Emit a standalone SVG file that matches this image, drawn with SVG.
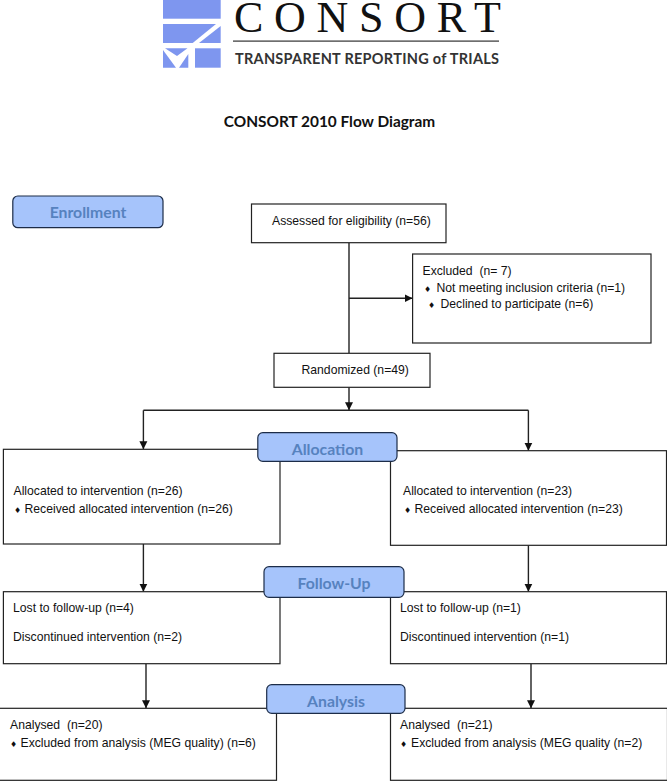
<svg xmlns="http://www.w3.org/2000/svg" width="667" height="781" viewBox="0 0 667 781">
<style>
.box{fill:#fff;stroke:#222;stroke-width:1.2}
.stage{fill:#a6c4fb;stroke:#1c2c48;stroke-width:1.2}
.st{font:bold 15.8px Lato,"Liberation Sans",sans-serif;fill:#5682bf;text-anchor:middle}
.t{font:12.2px "Liberation Sans",Arial,sans-serif;fill:#111;white-space:pre}
.b{font:8px "DejaVu Sans",sans-serif;fill:#111}
.c{fill:none;stroke:#222;stroke-width:1.4}
.logo{fill:#7e96ef}
</style>
<defs><marker id="a" markerUnits="userSpaceOnUse" markerWidth="9" markerHeight="9" refX="8" refY="4.500" orient="auto"><path d="M0 0.500L8 4.500L0 8.500z" fill="#111"/></marker></defs>
<rect width="667" height="781" fill="#fff"/>
<g id="logo">
<rect class="logo" x="163" y="0" width="57.700" height="18.700"/>
<path class="logo" d="M163 24H216L192.700 43H163z"/>
<path class="logo" d="M220.700 26V43H199z"/>
<rect class="logo" x="195" y="48.300" width="25.700" height="19.400"/>
<path class="logo" d="M165 48.300H187.500L177 56z"/>
<path class="logo" d="M163 50L176 67.700H163z"/>
<path class="logo" d="M188.300 54L179 67.700H188.300z"/>
<text x="234" y="32" font-family="Liberation Serif,serif" font-size="44" textLength="267" fill="#111">CONSORT</text>
<rect x="233" y="40.500" width="266" height="1.200" fill="#333"/>
<text x="235" y="63.500" font-family="Lato,sans-serif" font-weight="700" font-size="14.500" textLength="264" fill="#333">TRANSPARENT REPORTING of TRIALS</text>
</g>
<text id="title" x="329.500" y="127" font-family="Lato,sans-serif" font-weight="700" font-size="15.400" text-anchor="middle" fill="#111">CONSORT 2010 Flow Diagram</text>
<g id="connectors">
<path class="c" d="M349 243V353"/>
<path class="c" d="M349 298.300H412.500" marker-end="url(#a)"/>
<path class="c" d="M349 387.300V410.300" marker-end="url(#a)"/>
<path class="c" d="M143.400 410.300H528.400"/>
<path class="c" d="M143.400 410.300V449.300" marker-end="url(#a)"/>
<path class="c" d="M528.400 410.300V450.700" marker-end="url(#a)"/>
<path class="c" d="M143.400 544V591.700" marker-end="url(#a)"/>
<path class="c" d="M528.400 545.300V591.700" marker-end="url(#a)"/>
<path class="c" d="M146 663.700V708.300" marker-end="url(#a)"/>
<path class="c" d="M531 663.700V708.300" marker-end="url(#a)"/>
</g>
<g id="enrollment"><rect class="stage" x="12.800" y="196" width="150.200" height="31.700" rx="5"/><text class="st" x="88" y="217.500">Enrollment</text></g>
<g id="assessed"><rect class="box" x="251.500" y="204" width="194.500" height="38.700"/><text class="t" x="272" y="225">Assessed for eligibility (n=56)</text></g>
<g id="excluded"><rect class="box" x="412.600" y="254" width="238.400" height="89"/><text class="t" x="422.500" y="275">Excluded  (n= 7)</text><text class="b" x="424" y="292">♦</text><text class="t" x="436.500" y="292">Not meeting inclusion criteria (n=1)</text><text class="b" x="428" y="308">♦</text><text class="t" x="440.500" y="308">Declined to participate (n=6)</text></g>
<g id="randomized"><rect class="box" x="274" y="353.300" width="156" height="34"/><text class="t" x="301.500" y="374">Randomized (n=49)</text></g>
<g id="alloc-left"><rect class="box" x="3.400" y="449.300" width="276.600" height="94.700"/><text class="t" x="13.500" y="495">Allocated to intervention (n=26)</text><text class="b" x="14" y="512.500">♦</text><text class="t" x="24.500" y="513">Received allocated intervention (n=26)</text></g>
<g id="alloc-right"><rect class="box" x="390.500" y="450.700" width="276" height="94.600"/><text class="t" x="403" y="495">Allocated to intervention (n=23)</text><text class="b" x="404" y="512.500">♦</text><text class="t" x="414.500" y="513">Received allocated intervention (n=23)</text></g>
<g id="allocation"><rect class="stage" x="257.800" y="432.700" width="139.200" height="28.600" rx="5"/><text class="st" x="327.500" y="454.500">Allocation</text></g>
<g id="follow-left"><rect class="box" x="3.400" y="591.700" width="276.600" height="72"/><text class="t" x="13" y="612">Lost to follow-up (n=4)</text><text class="t" x="13" y="641">Discontinued intervention (n=2)</text></g>
<g id="follow-right"><rect class="box" x="390.500" y="591.700" width="276" height="72"/><text class="t" x="400" y="612">Lost to follow-up (n=1)</text><text class="t" x="400" y="641">Discontinued intervention (n=1)</text></g>
<g id="follow-up"><rect class="stage" x="264" y="566.700" width="140" height="30.600" rx="5"/><text class="st" x="334" y="588.500">Follow-Up</text></g>
<g id="analysis-left"><rect class="box" x="-1" y="708.300" width="277.500" height="72"/><text class="t" x="10" y="729">Analysed  (n=20)</text><text class="b" x="10" y="746.500">♦</text><text class="t" x="20.500" y="747">Excluded from analysis (MEG quality) (n=6)</text></g>
<g id="analysis-right"><rect class="box" x="390.500" y="708.300" width="277" height="72"/><text class="t" x="400" y="729">Analysed  (n=21)</text><text class="b" x="400" y="746.500">♦</text><text class="t" x="411" y="747">Excluded from analysis (MEG quality (n=2)</text></g>
<g id="analysis"><rect class="stage" x="266.700" y="684.700" width="138.300" height="28.600" rx="5"/><text class="st" x="336" y="706.500">Analysis</text></g>
</svg>
